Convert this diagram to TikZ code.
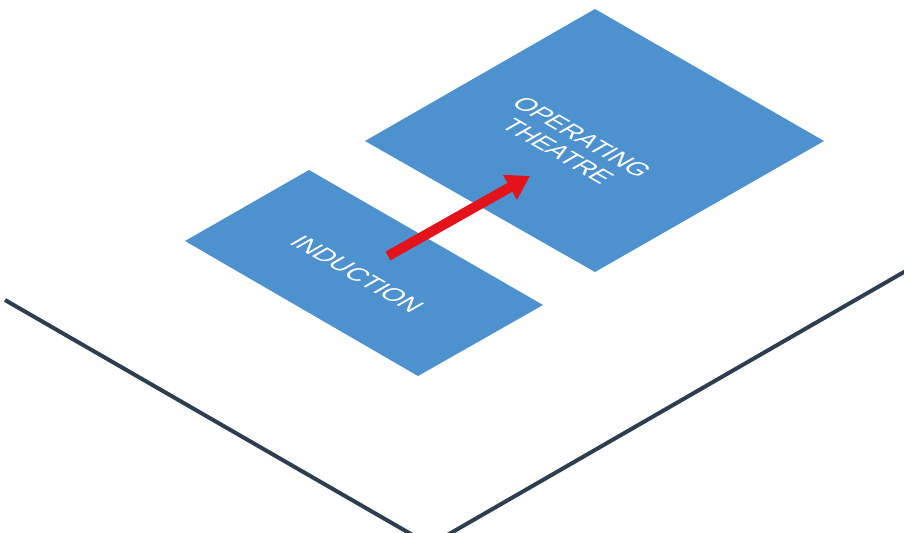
\documentclass[tikz,border=0pt]{standalone}
\usepackage{fontspec}
\setmainfont{Liberation Sans}
\usetikzlibrary{arrows.meta}
\definecolor{plannerblue}{HTML}{4D91CE}
\definecolor{plannerred}{HTML}{E3121B}
\definecolor{plannerslate}{HTML}{2E3E4F}

\begin{document}
\begin{tikzpicture}[
  x=0.2mm,y=-0.2mm,
  room/.style={fill=plannerblue},
  floorline/.style={draw=plannerslate,line width=0.8mm},
  roomlabel/.style={text=white,align=center,inner sep=0pt,transform shape,font=\fontsize{14.5}{16}\selectfont},
  flow/.style={-{Triangle[length=4.6mm,width=5.4mm]},draw=plannerred,line width=2mm},
  iso/.style={cm={0.866,-0.5,0.866,0.5,(0,0)}}
]
\useasboundingbox (0,0) rectangle (904,533);
\clip (0,0) rectangle (904,533);

% floor outline
\coordinate (fw) at (5,300);
\coordinate (fs) at (430,545);
\coordinate (fe) at (930,257);
\draw[floorline] (fw) -- (fs) -- (fe);

% rooms
\coordinate (iw) at (185,241);
\coordinate (in) at (309,170);
\coordinate (ie) at (543,305);
\coordinate (is) at (418,376);
\fill[room] (iw) -- (in) -- (ie) -- (is) -- cycle;

\coordinate (tw) at (365,141);
\coordinate (tn) at (595,9);
\coordinate (te) at (824,141);
\coordinate (ts) at (595,272);
\fill[room] (tw) -- (tn) -- (te) -- (ts) -- cycle;

% labels on the floor plane
\begin{scope}[shift={(357,274)},iso]
  \node[roomlabel] (induction) at (0,0) {INDUCTION};
\end{scope}
\begin{scope}[shift={(570,144)},iso]
  \node[roomlabel] (theatre) at (0,0) {OPERATING\\THEATRE};
\end{scope}

% patient flow
\coordinate (flowtail) at (388,256);
\coordinate (flowtip) at (530,176);
\draw[flow] (flowtail) -- (flowtip);
\end{tikzpicture}
\end{document}
